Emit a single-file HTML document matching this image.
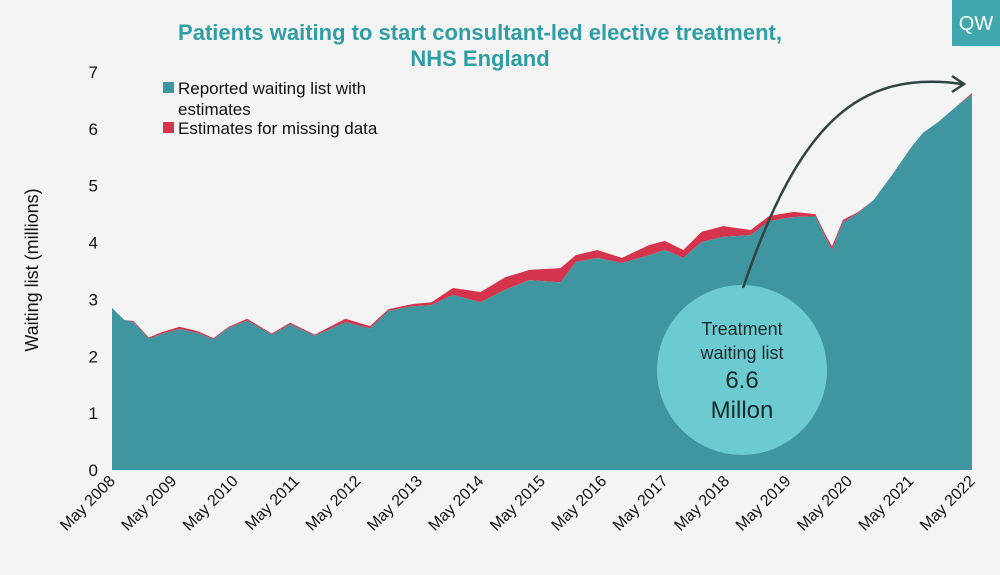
<!DOCTYPE html>
<html><head><meta charset="utf-8"><style>
body{margin:0;background:#f4f4f4;}
svg text{font-family:"Liberation Sans",sans-serif;}
</style></head><body>
<svg width="1000" height="570" viewBox="0 0 1000 570" xmlns="http://www.w3.org/2000/svg">
<rect width="1000" height="570" fill="#f4f4f4"/>
<text x="480" y="40" text-anchor="middle" font-size="22" font-weight="bold" fill="#2f9ea4">Patients waiting to start consultant-led elective treatment,</text>
<text x="480" y="66" text-anchor="middle" font-size="22" font-weight="bold" fill="#2f9ea4">NHS England</text>
<rect x="952" y="0" width="48" height="46" fill="#3fa7ad"/>
<text x="976" y="30" text-anchor="middle" font-size="20" fill="#fff">QW</text>
<g id="plot"></g>
<g id="axes"></g>
<text transform="translate(38,270) rotate(-90)" text-anchor="middle" font-size="18" fill="#111">Waiting list (millions)</text>
<rect x="163" y="82" width="11" height="11" fill="#4096a0"/>
<text x="178" y="94" font-size="17" fill="#111">Reported waiting list with</text>
<text x="178" y="115" font-size="17" fill="#111">estimates</text>
<rect x="163" y="122" width="11" height="11" fill="#d6344c"/>
<text x="178" y="134" font-size="17" fill="#111">Estimates for missing data</text>
<circle cx="742" cy="370" r="85" fill="#6ccbd0"/>
<path d="M743,288 C800,120 860,70 962,84" fill="none" stroke="#2e4440" stroke-width="2.5"/>
<path d="M952,76 L964,84 L952,92" fill="none" stroke="#2e4440" stroke-width="2.5"/>
<text x="742" y="335" text-anchor="middle" font-size="18" fill="#1b2b2b">Treatment</text>
<text x="742" y="359" text-anchor="middle" font-size="18" fill="#1b2b2b">waiting list</text>
<text x="742" y="388" text-anchor="middle" font-size="24" fill="#1b2b2b">6.6</text>
<text x="742" y="418" text-anchor="middle" font-size="24" fill="#1b2b2b">Millon</text>
</svg>
<script>
const dates=[2008.0,2008.2,2008.35,2008.6,2008.8,2009.1,2009.4,2009.65,2009.9,2010.2,2010.6,2010.9,2011.3,2011.8,2012.2,2012.5,2012.9,2013.2,2013.55,2014.0,2014.4,2014.8,2015.3,2015.55,2015.9,2016.3,2016.75,2017.0,2017.3,2017.6,2017.95,2018.4,2018.7,2019.1,2019.45,2019.6,2019.72,2019.9,2020.15,2020.4,2020.7,2021.0,2021.2,2021.45,2021.75,2022.0];
const reported=[2.85,2.64,2.6,2.31,2.39,2.48,2.41,2.3,2.5,2.63,2.38,2.56,2.36,2.6,2.49,2.8,2.88,2.9,3.08,2.95,3.17,3.34,3.3,3.66,3.73,3.64,3.78,3.87,3.73,4.01,4.1,4.13,4.38,4.45,4.46,4.12,3.87,4.36,4.52,4.75,5.19,5.66,5.93,6.12,6.4,6.6];
const missing=[0,0,0.02,0.02,0.03,0.04,0.03,0.02,0.02,0.03,0.02,0.03,0.02,0.06,0.04,0.03,0.04,0.05,0.12,0.18,0.22,0.18,0.25,0.12,0.14,0.09,0.18,0.16,0.14,0.18,0.19,0.09,0.09,0.09,0.04,0.05,0.06,0.04,0.02,0,0,0,0,0,0,0.03];
const yTicks=[0,1,2,3,4,5,6,7];
const xLabels=["May 2008","May 2009","May 2010","May 2011","May 2012","May 2013","May 2014","May 2015","May 2016","May 2017","May 2018","May 2019","May 2020","May 2021","May 2022"];
const NS="http://www.w3.org/2000/svg";
const X=t=>112+(t-2008)*(860/14);
const Y=v=>470-v*56.86;
const plot=document.getElementById('plot'),axes=document.getElementById('axes');
function area(top,bot,fill,name){
  let d='M'+X(dates[0])+','+Y(top[0]);
  for(let i=1;i<dates.length;i++)d+=' L'+X(dates[i])+','+Y(top[i]);
  for(let i=dates.length-1;i>=0;i--)d+=' L'+X(dates[i])+','+Y(bot[i]);
  const p=document.createElementNS(NS,'path');
  p.setAttribute('d',d+'Z');p.setAttribute('fill',fill);
  
  
  plot.appendChild(p);
}
const total=reported.map((v,i)=>v+missing[i]);
area(total,reported,'#d6344c','estimates-area');
area(reported,reported.map(()=>0),'#4096a0','reported-area');
yTicks.forEach(v=>{
  const t=document.createElementNS(NS,'text');
  t.setAttribute('x',98);t.setAttribute('y',Y(v)+6);t.setAttribute('text-anchor','end');
  t.setAttribute('font-size','17');t.setAttribute('fill','#111');t.textContent=v;
  
  
  axes.appendChild(t);
});
xLabels.forEach((s,i)=>{
  const x=X(2008+i),t=document.createElementNS(NS,'text');
  t.setAttribute('transform','translate('+(x+4)+',482) rotate(-45)');
  t.setAttribute('text-anchor','end');t.setAttribute('font-size','16');t.setAttribute('fill','#111');
  t.textContent=s;
  
  
  axes.appendChild(t);
});
</script>
</body></html>
